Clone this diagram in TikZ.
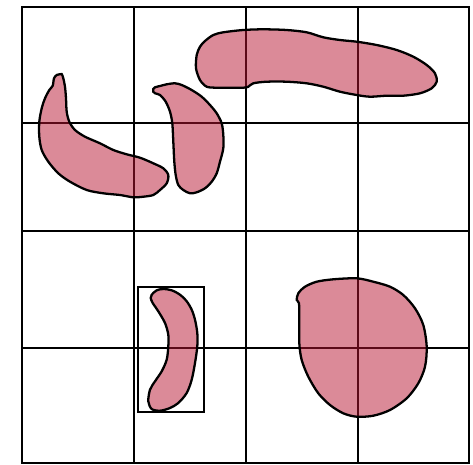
\documentclass[tikz,border=0pt]{standalone}
\usepackage{xcolor}
\definecolor{blobred}{HTML}{B71531}
\tikzset{
    gridline/.style={line width=1.2pt, line cap=rect},
    blob/.style={draw=black, line width=1.3pt, fill=blobred, fill opacity=0.5},
    bbox/.style={draw=black, line width=1.1pt}
}
\begin{document}
\begin{tikzpicture}[x=0.02cm,y=-0.02cm]
        \useasboundingbox (0,0) rectangle (473,464);
        % grid
        \foreach \gx in {22,134,246,358,469} {
            \draw[gridline] (\gx,7) -- (\gx,463);
        }
        \foreach \gy in {7,123,231,348,463} {
            \draw[gridline] (22,\gy) -- (469,\gy);
        }
        % left banana
        \draw[blob] plot[smooth cycle, tension=0.5] coordinates {
            (61.7,74) (63.3,78.3) (65,86.7) (66,98.3) (66.7,111.7) (69.3,121.7)
            (75,130) (85,136.7) (100,143.3) (113.3,150) (126.7,154.3) (140,157.7)
            (153.3,163.3) (163.3,168.3) (168.3,175) (166.7,183.3) (160,190)
            (153.3,195) (143.3,196.7) (133.3,197.3) (120,195) (103.3,193.3)
            (86.7,190) (70,181.7) (58.3,173.3) (48.3,161.7) (41.7,150)
            (39.3,136.7) (39.3,121.7) (41.7,108.3) (45,98.3) (49.3,90)
            (52.7,85.7) (54,78.3) (56.7,75) (59.3,74.3)};
        % middle comma
        \draw[blob] plot[smooth cycle, tension=0.5] coordinates {
            (153.3,89) (155,87.3) (160,86) (166.7,84.3) (175,83.3) (181.7,85)
            (191.7,90) (201.7,96.7) (210,105) (216.7,113.3) (221.7,123.3)
            (223.3,135) (223.3,148.3) (220,161.7) (216.7,173.3) (211.7,181.7)
            (205,188.3) (196.7,192.3) (190,193.3) (183.3,190) (178.3,185)
            (175.7,175) (174.3,161.7) (173.3,141.7) (172.3,123.3) (170,111.7)
            (165.7,101.7) (160,95) (155,93.3) (153.3,91.7)};
        % top long shape
        \draw[blob] plot[smooth cycle, tension=0.5] coordinates {
            (213.3,35) (223.3,32.3) (243.3,30) (263.3,29.3) (286.7,30)
            (306.7,32.3) (323.3,37.3) (340,40) (356.7,41.7) (376.7,45)
            (396.7,50) (413.3,56.7) (426.7,65) (435,73.3) (436.7,81.7)
            (431.7,88.3) (420,93.3) (403.3,95.7) (386.7,95.7) (370,96.7)
            (356.7,95) (340,91.7) (323.3,86.7) (306.7,83.3) (286.7,81.7)
            (266.7,81.7) (253.3,83.3) (248.3,86.7) (243.3,87.7) (230,87.7)
            (216.7,87.7) (206.7,86.7) (200,80) (196,68.3) (196.7,55)
            (200,46.7) (205,41)};
        % boxed banana
        \draw[bbox] (138,287) rectangle (204,412);
        \draw[blob] plot[smooth cycle, tension=0.5] coordinates {
            (151.7,294.7) (156.7,290.3) (163.3,289) (171.7,290.3) (180,294.7)
            (186.7,301.3) (191.7,309.7) (195,319.7) (197.3,333) (197.3,346.3)
            (195,363) (191.7,379.7) (186.7,393) (178.3,403) (170,408)
            (160,410.7) (151.7,409) (148.3,401.3) (150,389.7) (155,381.3)
            (161.7,371.3) (166.7,359.7) (168.3,346.3) (168.3,334.7) (165,323)
            (158.3,311.3) (152.7,303) (150.7,298)};
        % round blob
        \draw[blob] plot[smooth cycle, tension=0.5] coordinates {
            (296.7,300) (298.3,293.3) (305,286.7) (316.7,281.7) (333.3,279.3)
            (356.7,278.3) (373.3,281.7) (390,286.7) (403.3,295) (415,308.3)
            (423.3,325) (426.7,346.7) (425,366.7) (418.3,383.3) (406.7,398.3)
            (390,410) (373.3,415.7) (356.7,416.7) (343.3,413.3) (330,405)
            (318.3,393.3) (308.3,376.7) (301.7,360) (299.3,343.3) (299.3,320)
            (299,303.3)};
    \end{tikzpicture}
\end{document}
